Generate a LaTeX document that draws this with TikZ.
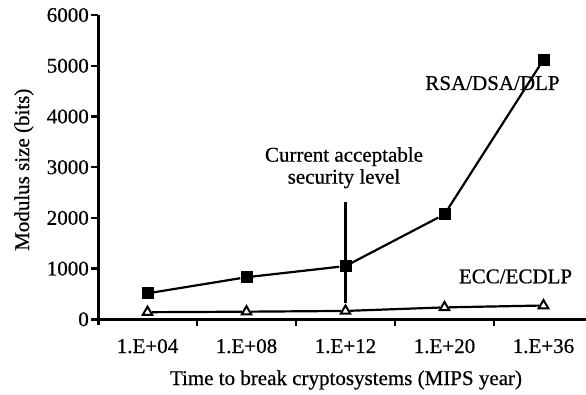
\documentclass[tikz,border=0pt]{standalone}
\usepackage{fontspec}
\setmainfont[FakeBold=0.6]{Liberation Serif}
\usetikzlibrary{shapes.geometric}
\begin{document}
\begin{tikzpicture}[x=1pt,y=1pt,
  axisline/.style={line width=3pt},
  tickmark/.style={line width=2.5pt},
  series/.style={line width=2.2pt},
  sq/.style={rectangle,fill=black,inner sep=0pt,minimum size=12pt},
  tri/.style={regular polygon,regular polygon sides=3,draw=black,fill=white,
    line width=2pt,inner sep=0pt,minimum size=11pt},
  lbl/.style={font=\fontsize{21}{22}\selectfont,inner sep=0pt}]
\useasboundingbox (0,0) rectangle (586,394);
\begin{scope}[shift={(98pt,74.7pt)},y=0.0507pt]
  % axes
  \draw[axisline] (0,6002) -- (0,-118);
  \draw[axisline] (0,0) -- (488,0);
  % y ticks and labels
  \foreach \v in {0,1000,...,6000}{
    \draw[tickmark] (-7,\v) -- (0,\v);
    \node[lbl,anchor=east] (ytick\v) at (-9,\v) {\v};
  }
  % x ticks and category labels
  \foreach \i in {1,2,3,4}{
    \draw[tickmark] (99*\i,0) -- (99*\i,-138);
  }
  \foreach \c [count=\i from 0] in {1.E+04,1.E+08,1.E+12,1.E+20,1.E+36}{
    \node[lbl] (xtick\i) at (49.5+99*\i,-530) {\c};
  }
  % axis titles
  \node[lbl,anchor=base] (xtitle) at (248,-1296) {Time to break cryptosystems (MIPS year)};
  \node[lbl,rotate=90] (ytitle) at (-74,2950) {Modulus size (bits)};
  % security level marker
  \coordinate (cltop) at (247.5,2320);
  % RSA/DSA/DLP series
  \node[sq] (r0) at (49.5,512) {};
  \node[sq] (r1) at (148.5,830) {};
  \node[sq] (r2) at (247.5,1050) {};
  \node[sq] (r3) at (346.5,2070) {};
  \node[sq] (r4) at (445.5,5120) {};
  \draw[series] (r0) -- (r1) -- (r2) -- (r3) -- (r4);
  % ECC/ECDLP series
  \node[tri] (e0) at (49.5,140) {};
  \node[tri] (e1) at (148.5,150) {};
  \node[tri] (e2) at (247.5,165) {};
  \node[tri] (e3) at (346.5,235) {};
  \node[tri] (e4) at (445.5,272) {};
  \draw[series] (e0) -- (e1) -- (e2) -- (e3) -- (e4);
  \draw[series] (cltop) -- (e2.corner 1);
  % annotations
  \node[lbl,anchor=base] (rsa) at (394.5,4523) {RSA/DSA/DLP};
  \node[lbl,anchor=base] (ecc) at (417.5,710) {ECC/ECDLP};
  \node[lbl,align=center,anchor=north] (cur) at (246,3400) {Current acceptable\\security level};
\end{scope}
\end{tikzpicture}
\end{document}
